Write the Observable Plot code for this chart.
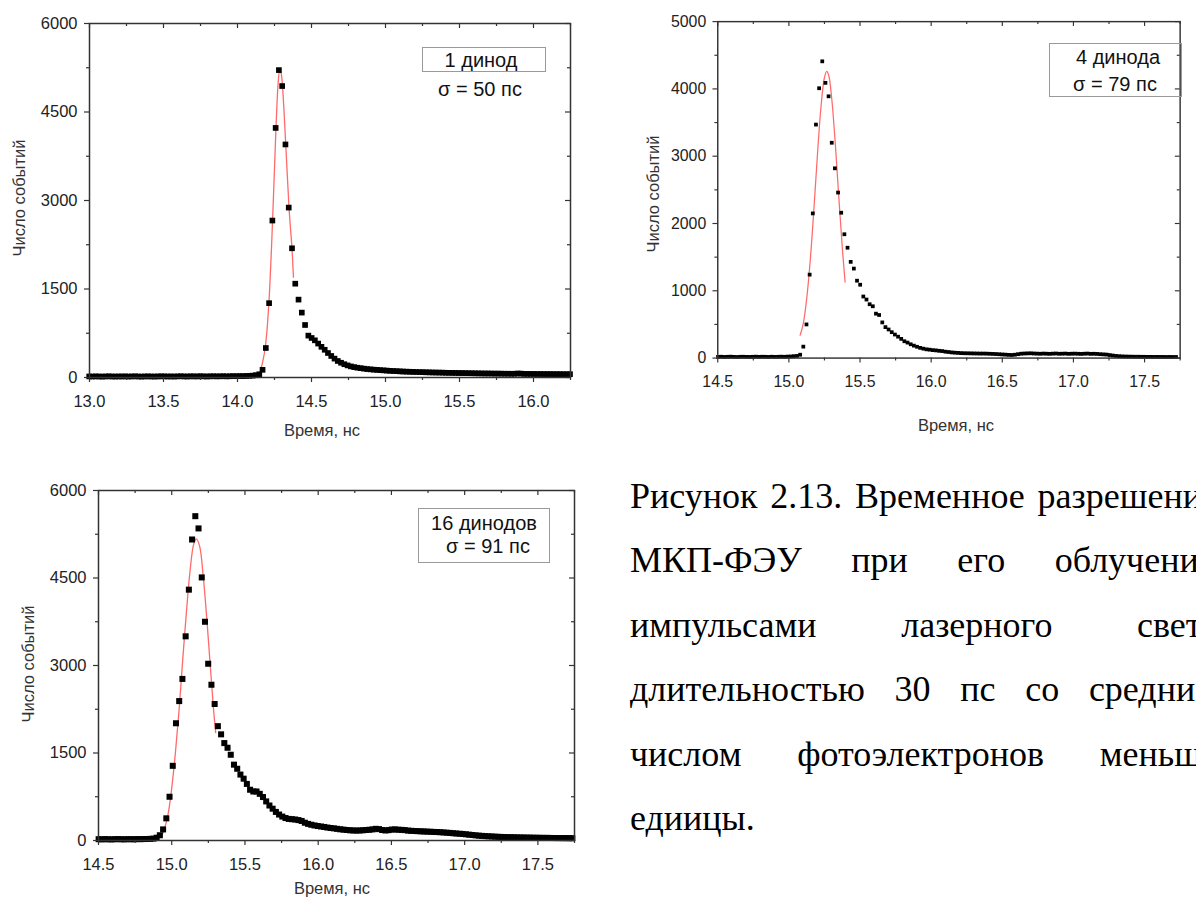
<!DOCTYPE html>
<html>
<head>
<meta charset="utf-8">
<script src="https://cdn.jsdelivr.net/npm/d3@7"></script>
<script src="https://cdn.jsdelivr.net/npm/@observablehq/plot@0.6"></script>
<style>
html,body{margin:0;padding:0;background:#fff;}
body{width:1196px;height:897px;overflow:hidden;position:relative;font-family:"Liberation Sans",Arial,sans-serif;}
.chart{position:absolute;}
.ctr{position:absolute;transform:translate(-50%,-50%);white-space:nowrap;line-height:1;}
.axt{font-size:16.5px;color:#333;}
.yt{transform:translate(-50%,-50%) rotate(-90deg);}
.leg{font-size:20px;color:#111;}
.box{position:absolute;border:1px solid #9a9a9a;box-sizing:border-box;}
#caption{position:absolute;left:630px;top:464px;font-family:"Liberation Serif","Times New Roman",serif;font-size:36px;line-height:64.4px;color:#000;}
#caption .ln{display:flex;justify-content:space-between;width:588px;white-space:nowrap;}
</style>
</head>
<body>
<div id="c1" class="chart" style="left:0;top:0"></div>
<div id="c2" class="chart" style="left:600px;top:0"></div>
<div id="c3" class="chart" style="left:0;top:470px"></div>

<div class="ctr axt yt" style="left:19px;top:198px">Число событий</div>
<div class="ctr axt" style="left:322px;top:430px">Время, нс</div>
<div class="ctr axt yt" style="left:653px;top:194px">Число событий</div>
<div class="ctr axt" style="left:956px;top:425px">Время, нс</div>
<div class="ctr axt yt" style="left:28px;top:664px">Число событий</div>
<div class="ctr axt" style="left:332px;top:888px">Время, нс</div>

<div class="box" style="left:422px;top:47px;width:124px;height:25px"></div>
<div class="ctr leg" style="left:481px;top:60px">1 динод</div>
<div class="ctr leg" style="left:480px;top:89px">σ = 50 пс</div>

<div class="box" style="left:1049px;top:43px;width:133px;height:54px"></div>
<div class="ctr leg" style="left:1118px;top:57px">4 динода</div>
<div class="ctr leg" style="left:1115px;top:84px">σ = 79 пс</div>

<div class="box" style="left:418px;top:508px;width:132px;height:55px"></div>
<div class="ctr leg" style="left:484px;top:523px">16 динодов</div>
<div class="ctr leg" style="left:488px;top:546px">σ = 91 пс</div>

<div id="caption">
  <div class="ln"><span>Рисунок</span><span>2.13.</span><span>Временное</span><span>разрешение</span></div>
  <div class="ln"><span>МКП-ФЭУ</span><span>при</span><span>его</span><span>облучении</span></div>
  <div class="ln"><span>импульсами</span><span>лазерного</span><span>света</span></div>
  <div class="ln"><span>длительностью</span><span>30</span><span>пс</span><span>со</span><span>средним</span></div>
  <div class="ln"><span>числом</span><span>фотоэлектронов</span><span>меньше</span></div>
  <div>едиицы.</div>
</div>

<script>
// ---------- Panel 1: 1 динод ----------
const t0_1 = 12.998, bin1 = 0.0221;
const counts1 = [
  18,16,19,17,15,18,20,17,16,18,
  17,19,16,18,20,17,15,18,19,17,
  16,18,20,19,17,18,16,19,21,18,
  17,20,19,18,22,19,17,20,21,19,
  20,22,19,21,23,22,24,23,26,28,
  32,40,55,130,500,1260,2660,4230,5210,4940,
  3950,2880,2190,1590,1320,1100,890,710,670,630,
  575,520,470,415,365,320,280,250,225,205,
  188,176,166,158,150,143,138,133,129,125,
  121,117,113,110,107,104,101,99,97,95,
  93,91,90,88,87,85,84,83,82,80,
  79,78,77,76,75,74,73,72,71,70,
  69,68,68,67,66,66,65,64,64,63,
  63,68,66,61,61,60,60,59,59,58,
  58,58,57,57,57,56,56,56
];
const fit1T = [14.132,14.150,14.170,14.190,14.212,14.237,14.260,14.275,14.285,14.295,14.305,14.326,14.348,14.368,14.378];
const fit1C = [0,80,260,560,1260,2660,4230,5000,5200,5150,4900,3950,2880,2190,1700];
const x1Ticks = [13.0,13.5,14.0,14.5,15.0,15.5,16.0];
const x1Minor = [13.25,13.75,14.25,14.75,15.25,15.75,16.25];
const y1Ticks = [0,1500,3000,4500,6000];
const y1Minor = [750,2250,3750,5250];

// ---------- Panel 2: 4 динода ----------
const t0_2 = 14.502, bin2 = 0.0222;
const counts2 = [
  18,20,17,19,21,18,16,19,20,18,
  17,19,21,18,20,19,17,20,18,19,
  21,19,22,24,28,32,50,170,500,1240,
  2150,3470,4010,4410,4090,3890,3200,2820,2460,2160,
  1840,1640,1430,1330,1150,1090,915,870,800,770,
  660,640,530,460,425,385,350,318,285,250,
  230,205,185,168,152,140,130,125,118,114,
  108,104,95,90,84,80,77,74,72,71,
  70,69,68,67,67,66,64,62,60,57,
  54,51,48,46,50,58,65,68,70,71,
  68,66,64,67,65,63,66,68,64,65,
  67,63,65,66,64,62,65,67,63,64,
  62,58,55,52,45,38,32,28,25,23,
  22,21,20,20,19,19,18,18,17,18,
  17,17,16,17,16,16
];
const fit2T = [15.079,15.100,15.125,15.150,15.175,15.200,15.225,15.250,15.266,15.280,15.300,15.325,15.350,15.375,15.395];
const fit2C = [340,500,880,1450,2190,3000,3720,4170,4260,4200,3880,3220,2420,1650,1130];
const x2Ticks = [14.5,15.0,15.5,16.0,16.5,17.0,17.5];
const x2Minor = [14.75,15.25,15.75,16.25,16.75,17.25,17.75];
const y2Ticks = [0,1000,2000,3000,4000,5000];
const y2Minor = [500,1500,2500,3500,4500];

// ---------- Panel 3: 16 динодов ----------
const t0_3 = 14.501, bin3 = 0.022;
const counts3 = [
  22,20,23,21,19,22,24,21,20,23,
  22,21,24,23,25,26,28,
  32,48,90,
  190,380,750,1280,2010,2390,2770,3500,4300,5160,
  5560,5350,4510,3750,3030,2670,2340,1960,1820,1670,
  1590,1470,1300,1230,1130,1060,970,870,840,840,
  800,745,670,600,545,490,445,410,385,370,
  365,360,350,335,305,285,270,258,248,240,
  232,222,214,208,200,192,186,180,175,172,
  170,172,175,180,184,190,200,195,180,172,
  178,188,190,185,182,178,170,166,163,160,
  157,155,152,150,147,145,142,138,134,130,
  125,120,116,112,106,100,94,88,83,79,
  75,72,69,66,63,61,59,57,56,55,
  53,52,51,50,49,48,47,46,45,45,
  44,43,42,42,41,41,40,40
];
const fit3T = [14.935,14.950,14.975,15.000,15.025,15.050,15.075,15.100,15.125,15.150,15.168,15.190,15.215,15.240,15.265,15.285,15.300];
const fit3C = [100,200,450,900,1500,2230,3100,3910,4620,5080,5170,5050,4530,3780,2930,2260,1850];
const x3Ticks = [14.5,15.0,15.5,16.0,16.5,17.0,17.5];
const x3Minor = [14.75,15.25,15.75,16.25,16.75,17.25,17.75];
const y3Ticks = [0,1500,3000,4500,6000];
const y3Minor = [750,2250,3750,5250];

function chart(cfg) {
  const {t0, bin, counts, fitT, fitC, xDomain, yDomain, xTicks, xMinor, yTicks, yMinor,
         width, height, mt, mr, mb, ml, r} = cfg;
  const pts = counts.map((c, i) => ({t: t0 + i * bin, c}));
  const fit = fitT.map((t, i) => ({t, c: fitC[i]}));
  const innerH = height - mt - mb, innerW = width - ml - mr;
  const ink = "#333";
  return Plot.plot({
    width, height,
    marginTop: mt, marginRight: mr, marginBottom: mb, marginLeft: ml,
    style: {fontFamily: "'Liberation Sans', Arial, sans-serif", fontSize: "16.5px", color: "#222", background: "transparent", overflow: "visible"},
    x: {domain: xDomain},
    y: {domain: yDomain},
    marks: [
      Plot.line(fit, {x: "t", y: "c", stroke: "#ff6a6a", strokeWidth: 1.3, curve: "catmull-rom"}),
      Plot.dot(pts, {x: "t", y: "c", symbol: "square", r, fill: "#000", stroke: null}),
      Plot.frame({stroke: ink, strokeWidth: 1.5}),
      Plot.axisX(xTicks, {anchor: "bottom", tickSize: 5, tickPadding: 13, tickFormat: d3.format(".1f"), label: null, stroke: ink, strokeWidth: 1.2}),
      Plot.axisX(xMinor, {anchor: "bottom", tickSize: 3, tickFormat: () => "", label: null, stroke: ink, strokeWidth: 1.2}),
      Plot.axisY(yTicks, {anchor: "left", tickSize: 5, tickPadding: 7, tickFormat: d3.format("d"), label: null, stroke: ink, strokeWidth: 1.2}),
      Plot.axisY(yMinor, {anchor: "left", tickSize: 3, tickFormat: () => "", label: null, stroke: ink, strokeWidth: 1.2}),
      Plot.tickX(xTicks, {x: d => d, insetBottom: innerH - 5, stroke: ink, strokeWidth: 1.2}),
      Plot.tickX(xMinor, {x: d => d, insetBottom: innerH - 3, stroke: ink, strokeWidth: 1.2}),
      Plot.tickY(yTicks, {y: d => d, insetLeft: innerW - 5, stroke: ink, strokeWidth: 1.2}),
      Plot.tickY(yMinor, {y: d => d, insetLeft: innerW - 3, stroke: ink, strokeWidth: 1.2})
    ]
  });
}

document.getElementById("c1").append(chart({
  t0: t0_1, bin: bin1, counts: counts1, fitT: fit1T, fitC: fit1C,
  xDomain: [13.0, 16.25], yDomain: [0, 6000],
  xTicks: x1Ticks, xMinor: x1Minor, yTicks: y1Ticks, yMinor: y1Minor,
  width: 590, height: 430, mt: 23, mr: 20, mb: 53, ml: 89, r: 3.2
}));
document.getElementById("c2").append(chart({
  t0: t0_2, bin: bin2, counts: counts2, fitT: fit2T, fitC: fit2C,
  xDomain: [14.5, 17.75], yDomain: [0, 5000],
  xTicks: x2Ticks, xMinor: x2Minor, yTicks: y2Ticks, yMinor: y2Minor,
  width: 620, height: 425, mt: 22, mr: 17, mb: 53, ml: 122, r: 2.2
}));
document.getElementById("c3").append(chart({
  t0: t0_3, bin: bin3, counts: counts3, fitT: fit3T, fitC: fit3C,
  xDomain: [14.5, 17.75], yDomain: [0, 6000],
  xTicks: x3Ticks, xMinor: x3Minor, yTicks: y3Ticks, yMinor: y3Minor,
  width: 590, height: 430, mt: 20, mr: 16, mb: 60, ml: 98, r: 3.4
}));
</script>
</body>
</html>
